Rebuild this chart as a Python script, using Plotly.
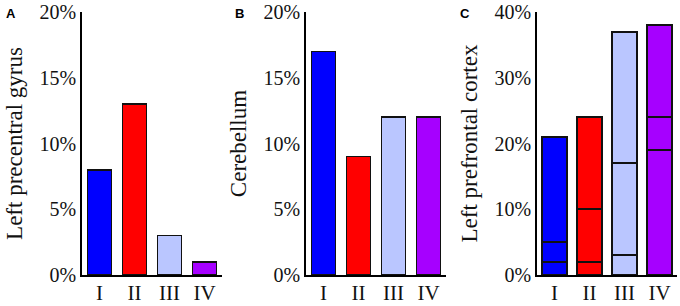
import plotly.graph_objects as go

categories = ["I", "II", "III", "IV"]
colors = ["#0000FF", "#FF0000", "#BAC6FF", "#A600FF"]

# Panel A: Left precentral gyrus (%)
a_values = [8, 13, 3, 1]
# Panel B: Cerebellum (%)
b_values = [17, 9, 12, 12]
# Panel C: Left prefrontal cortex (%), stacked segments bottom -> top
c_bottom = [2, 2, 3, 19]
c_middle = [3, 8, 14, 5]
c_top = [16, 14, 20, 14]

a_ticks = [0, 5, 10, 15, 20]
c_ticks = [0, 10, 20, 30, 40]

W, H = 680, 306
serif = "Liberation Serif, Times New Roman, serif"
line = dict(color="#111111", width=1.5)
line_c = dict(color="#111111", width=1.8)

fig = go.Figure()
fig.add_trace(go.Bar(x=categories, y=a_values, marker=dict(color=colors, line=line),
                     width=0.68, xaxis="x", yaxis="y", showlegend=False))
fig.add_trace(go.Bar(x=categories, y=b_values, marker=dict(color=colors, line=line),
                     width=0.68, xaxis="x2", yaxis="y2", showlegend=False))
for seg in (c_bottom, c_middle, c_top):
    fig.add_trace(go.Bar(x=categories, y=seg, marker=dict(color=colors, line=line_c),
                         width=0.7, xaxis="x3", yaxis="y3", showlegend=False))

ydom = [(H - 275) / H, (H - 12) / H]
xdoms = [[82 / W, 222 / W], [306 / W, 446 / W], [537 / W, 677 / W]]

def xax(dom, anchor):
    return dict(domain=dom, anchor=anchor, showline=True, linecolor="#000", linewidth=1.5,
                ticks="", showgrid=False, zeroline=False, range=[-0.5, 3.5], automargin=False,
                ticklabeloverflow="allow", ticklabelstandoff=-2,
                tickfont=dict(family=serif, size=21, color="#111"))

def yax(dom, anchor, title, rng, ticks, tickvals_text):
    return dict(domain=dom, anchor=anchor, showline=True, linecolor="#000", linewidth=1.5,
                ticks="", showgrid=False, zeroline=False, range=rng, automargin=False,
                ticklabeloverflow="allow",
                tickvals=ticks, ticktext=tickvals_text,
                tickfont=dict(family=serif, size=20, color="#111"),
                title=dict(text=title, font=dict(family=serif, size=23, color="#111"), standoff=11))

fig.update_layout(
    width=W, height=H, margin=dict(l=0, r=0, t=0, b=0, autoexpand=False),
    paper_bgcolor="white", plot_bgcolor="white", barmode="stack", bargap=0.3,
    xaxis=xax(xdoms[0], "y"), xaxis2=xax(xdoms[1], "y2"), xaxis3=xax(xdoms[2], "y3"),
    yaxis=yax(ydom, "x", "Left precentral gyrus", [0, 20], a_ticks, [f"{t}%" for t in a_ticks]),
    yaxis2=yax(ydom, "x2", "Cerebellum", [0, 20], a_ticks, [f"{t}%" for t in a_ticks]),
    yaxis3=yax(ydom, "x3", "Left prefrontal cortex", [0, 40], c_ticks, [f"{t}%" for t in c_ticks]),
)

for letter, xpx in (("A", 4), ("B", 233), ("C", 458)):
    fig.add_annotation(text=f"<b>{letter}</b>", x=xpx / W, y=1 - 4 / H, xref="paper", yref="paper",
                       xanchor="left", yanchor="top", showarrow=False,
                       font=dict(family="Liberation Sans, Arial, sans-serif", size=13, color="#000"))

fig.write_html("out.html", config={"displayModeBar": False},
               post_script="document.body.style.margin='0';document.body.style.overflow='hidden';")
